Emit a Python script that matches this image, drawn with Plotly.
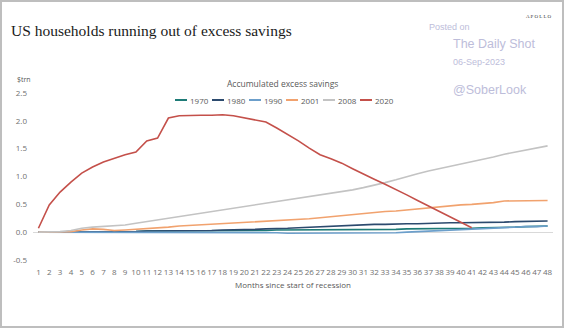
import plotly.graph_objects as go

months = list(range(1, 49))

s1970 = [0.0, 0.0, 0.0, 0.0, 0.0, 0.01, 0.01, 0.01, 0.01, 0.01, 0.02, 0.02,
         0.02, 0.02, 0.02, 0.02, 0.02, 0.02, 0.03, 0.03, 0.03, 0.03, 0.04, 0.04,
         0.04, 0.04, 0.04, 0.04, 0.04, 0.05, 0.05, 0.05, 0.05, 0.05, 0.06, 0.06,
         0.06, 0.06, 0.07, 0.07, 0.07, 0.08, 0.08, 0.09, 0.09, 0.10, 0.10, 0.11]
s1980 = [0.0, 0.0, 0.0, 0.0, 0.0, 0.0, 0.0, 0.01, 0.01, 0.01, 0.02, 0.02,
         0.02, 0.02, 0.03, 0.03, 0.03, 0.04, 0.04, 0.05, 0.05, 0.06, 0.06, 0.07,
         0.08, 0.09, 0.10, 0.10, 0.11, 0.12, 0.13, 0.14, 0.14, 0.15, 0.15, 0.15,
         0.16, 0.16, 0.17, 0.17, 0.17, 0.18, 0.18, 0.18, 0.19, 0.19, 0.20, 0.20]
s1990 = [0.0, 0.0, 0.0, 0.0, -0.01, -0.01, -0.01, -0.01, -0.01, -0.01, -0.01, 0.0,
         0.0, 0.0, 0.0, 0.0, 0.0, 0.0, 0.0, -0.01, -0.01, -0.01, -0.01, -0.02,
         -0.02, -0.02, -0.02, -0.02, -0.02, -0.02, -0.02, -0.02, -0.01, -0.01, 0.0, 0.01,
         0.02, 0.03, 0.03, 0.04, 0.05, 0.06, 0.07, 0.08, 0.09, 0.10, 0.10, 0.11]
s2001 = [0.0, 0.0, 0.0, 0.01, 0.04, 0.06, 0.05, 0.03, 0.04, 0.05, 0.06, 0.08,
         0.09, 0.11, 0.12, 0.14, 0.15, 0.16, 0.17, 0.18, 0.19, 0.20, 0.21, 0.22,
         0.23, 0.24, 0.26, 0.28, 0.30, 0.32, 0.33, 0.35, 0.37, 0.38, 0.40, 0.41,
         0.43, 0.45, 0.47, 0.49, 0.50, 0.51, 0.53, 0.56, 0.56, 0.56, 0.56, 0.57]
s2008 = [0.0, 0.0, 0.01, 0.03, 0.07, 0.09, 0.10, 0.11, 0.13, 0.16, 0.19, 0.22,
         0.25, 0.28, 0.31, 0.34, 0.37, 0.40, 0.43, 0.46, 0.49, 0.52, 0.55, 0.58,
         0.61, 0.63, 0.66, 0.69, 0.72, 0.76, 0.80, 0.84, 0.89, 0.94, 1.00, 1.05,
         1.10, 1.14, 1.19, 1.23, 1.27, 1.31, 1.35, 1.40, 1.44, 1.48, 1.51, 1.55]
s2020 = [0.07, 0.49, 0.72, 0.90, 1.06, 1.17, 1.26, 1.33, 1.39, 1.44, 1.64, 1.69,
         2.05, 2.09, 2.10, 2.10, 2.10, 2.11, 2.09, 2.05, 2.02, 1.98, 1.87, 1.76,
         1.64, 1.51, 1.39, 1.32, 1.24, 1.14, 1.04, 0.95, 0.86, 0.77, 0.67, 0.57,
         0.47, 0.37, 0.27, 0.17, 0.08]

series = [
    ("1970", s1970, "#1E7B77"),
    ("1980", s1980, "#2C4A6E"),
    ("1990", s1990, "#6C9FCB"),
    ("2001", s2001, "#F1A26E"),
    ("2008", s2008, "#C3C3C3"),
    ("2020", s2020, "#C4504A"),
]

W, H = 564, 328
L, R, T, B = 33, 11, 93, 68
pw, ph = W - L - R, H - T - B

fig = go.Figure()
for name, vals, col in series:
    fig.add_trace(go.Scatter(x=months[:len(vals)], y=vals, name=name, mode="lines",
                             line=dict(color=col, width=1.6), showlegend=False))

def px_x(p):
    return (p - L) / pw

def px_y(p):
    return 1 - (p - T) / ph

font = "Open Sans, Noto Sans, sans-serif"
wm = "#BDBDDA"
grey = "#595959"
tickgrey = "#707070"

annotations = [
    dict(text="US households running out of excess savings", x=px_x(9), y=px_y(31),
         xanchor="left", font=dict(family="Liberation Serif, DejaVu Serif, serif", size=15.5, color="#1a1a1a")),
    dict(text="A P O L L O", x=px_x(554), y=px_y(16), xanchor="right",
         font=dict(family="Liberation Serif, serif", size=5, color="#333333")),
    dict(text="Posted on", x=px_x(427), y=px_y(27), xanchor="left",
         font=dict(family="Liberation Sans, Arial, sans-serif", size=9, color=wm)),
    dict(text="The Daily Shot", x=px_x(451), y=px_y(44), xanchor="left",
         font=dict(family="Liberation Sans, Arial, sans-serif", size=12.5, color=wm)),
    dict(text="06-Sep-2023", x=px_x(451), y=px_y(62), xanchor="left",
         font=dict(family="Liberation Sans, Arial, sans-serif", size=9, color=wm)),
    dict(text="@SoberLook", x=px_x(451), y=px_y(90), xanchor="left",
         font=dict(family="Liberation Sans, Arial, sans-serif", size=12.5, color=wm)),
    dict(text="Accumulated excess savings", x=px_x(282), y=px_y(83), xanchor="center",
         font=dict(size=8.5, color=grey)),
    dict(text="$trn", x=px_x(15), y=px_y(79), xanchor="left",
         font=dict(size=7, color=grey)),
]

shapes = [dict(type="rect", xref="paper", yref="paper",
               x0=px_x(1), x1=px_x(563), y0=px_y(1), y1=px_y(327),
               line=dict(color="#BEBEBE", width=2), fillcolor="rgba(0,0,0,0)", layer="above")]

# manual legend
leg_y = 100
for i, (name, vals, col) in enumerate(series):
    tx = 189 + 37 * i
    shapes.append(dict(type="line", xref="paper", yref="paper",
                       x0=px_x(tx - 14), x1=px_x(tx - 2), y0=px_y(leg_y), y1=px_y(leg_y),
                       line=dict(color=col, width=2)))
    annotations.append(dict(text=name, x=px_x(tx - 1), y=px_y(leg_y), xanchor="left",
                            font=dict(size=8, color=grey)))

for a in annotations:
    a.update(xref="paper", yref="paper", yanchor="middle", showarrow=False)

fig.update_layout(
    width=W, height=H,
    margin=dict(l=L, r=R, t=T, b=B),
    paper_bgcolor="white", plot_bgcolor="white",
    font=dict(family=font, size=8, color=grey),
    showlegend=False,
    xaxis=dict(range=[0.5, 48.5], tickmode="array", tickvals=months,
               ticktext=[str(m) for m in months], showgrid=False, zeroline=False,
               showline=False, ticks="", tickfont=dict(size=8, color=tickgrey),
               tickangle=0, ticklabelstandoff=6,
               title=dict(text="Months since start of recession", font=dict(size=8, color=grey), standoff=6)),
    yaxis=dict(range=[-0.5, 2.5], tickvals=[-0.5, 0, 0.5, 1.0, 1.5, 2.0, 2.5],
               ticktext=["-0.5", "0.0", "0.5", "1.0", "1.5", "2.0", "2.5"],
               showgrid=False, zeroline=True, zerolinecolor="#D9D9D9", zerolinewidth=1,
               showline=False, ticks="", ticklabelstandoff=5, tickfont=dict(size=8, color=tickgrey)),
    shapes=shapes,
    annotations=annotations,
)

fig.write_html("out.html")
